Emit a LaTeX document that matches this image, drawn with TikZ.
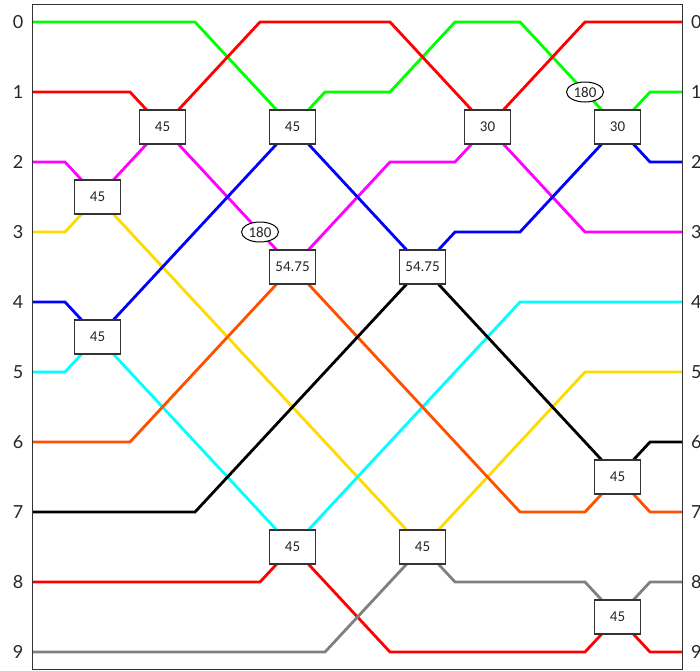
\documentclass[tikz,border=0pt]{standalone}
\usepackage{fontspec}
\setmainfont{Carlito}
\newfontfamily\labfont{Lato}
\usetikzlibrary{shapes.geometric}
\pgfdeclarelayer{bg}
\pgfsetlayers{bg,main}
\definecolor{wgreen}{RGB}{0,255,0}
\definecolor{wred}{RGB}{255,0,0}
\definecolor{wmag}{RGB}{255,0,255}
\definecolor{wyel}{RGB}{255,218,0}
\definecolor{wblue}{RGB}{0,0,255}
\definecolor{wcyan}{RGB}{0,255,255}
\definecolor{worange}{RGB}{255,80,0}
\definecolor{wgray}{RGB}{128,128,128}
\begin{document}
\begin{tikzpicture}[x=65pt,y=-70pt,
  gate/.style={draw=black!80,fill=white,line width=1.1pt,minimum width=46pt,minimum height=34pt,inner sep=0pt,text=black!85,font=\fontsize{15}{15}\selectfont},
  phase/.style={ellipse,draw=black,fill=white,line width=1pt,minimum width=37pt,minimum height=20pt,inner sep=0pt,text=black!85,font=\fontsize{15}{15}\selectfont},
  wire/.style={line width=2.8pt},
  rowlab/.style={inner sep=0pt,text=black!85,font=\labfont\fontsize{18}{18}\selectfont}]
\useasboundingbox (0,-0.3143) rectangle (10.769,9.271);

% gates
\node[gate] (g1) at (2.5,1.5) {45};
\node[gate] (g2) at (1.5,2.5) {45};
\node[gate] (g3) at (1.5,4.5) {45};
\node[gate] (g4) at (4.5,1.5) {45};
\node[gate] (g5) at (4.5,3.5) {54.75};
\node[gate] (g6) at (6.5,3.5) {54.75};
\node[gate] (g7) at (7.5,1.5) {30};
\node[gate] (g8) at (9.5,1.5) {30};
\node[gate] (g9) at (4.5,7.5) {45};
\node[gate] (g10) at (6.5,7.5) {45};
\node[gate] (g11) at (9.5,6.5) {45};
\node[gate] (g12) at (9.5,8.5) {45};
\node[phase] (p1) at (4,3) {180};
\node[phase] (p2) at (9,1) {180};

% wire ends and labels
\foreach \r in {0,...,9}{
  \coordinate (L\r) at (0.5,\r);
  \coordinate (R\r) at (10.5,\r);
  \node[rowlab] (ll\r) at (0.277,\r) {\r};
  \node[rowlab,anchor=west] (rl\r) at (10.63,\r) {\r};
}

\begin{pgfonlayer}{bg}
\draw[wire,wgreen] (L0) -- (3,0) -- (g4.center) -- (5,1) -- (6,1) -- (7,0) -- (8,0) -- (p2.center) -- (g8.center) -- (10,1) -- (R1);
\draw[wire,wred] (L1) -- (2,1) -- (g1.center) -- (4,0) -- (6,0) -- (g7.center) -- (9,0) -- (R0);
\draw[wire,wmag] (L2) -- (1,2) -- (g2.center) -- (g1.center) -- (p1.center) -- (g5.center) -- (6,2) -- (7,2) -- (g7.center) -- (9,3) -- (R3);
\draw[wire,wyel] (L3) -- (1,3) -- (g2.center) -- (g10.center) -- (9,5) -- (R5);
\draw[wire,wblue] (L4) -- (1,4) -- (g3.center) -- (g4.center) -- (g6.center) -- (7,3) -- (8,3) -- (g8.center) -- (10,2) -- (R2);
\draw[wire,wcyan] (L5) -- (1,5) -- (g3.center) -- (g9.center) -- (8,4) -- (R4);
\draw[wire,worange] (L6) -- (2,6) -- (g5.center) -- (8,7) -- (9,7) -- (g11.center) -- (10,7) -- (R7);
\draw[wire,black] (L7) -- (3,7) -- (g6.center) -- (g11.center) -- (10,6) -- (R6);
\draw[wire,wred] (L8) -- (4,8) -- (g9.center) -- (6,9) -- (9,9) -- (g12.center) -- (10,9) -- (R9);
\draw[wire,wgray] (L9) -- (5,9) -- (g10.center) -- (7,8) -- (9,8) -- (g12.center) -- (10,8) -- (R8);
\draw[line width=1.5pt,black!80] (0.5,-0.25) rectangle (10.5,9.25);
\end{pgfonlayer}
\end{tikzpicture}
\end{document}
